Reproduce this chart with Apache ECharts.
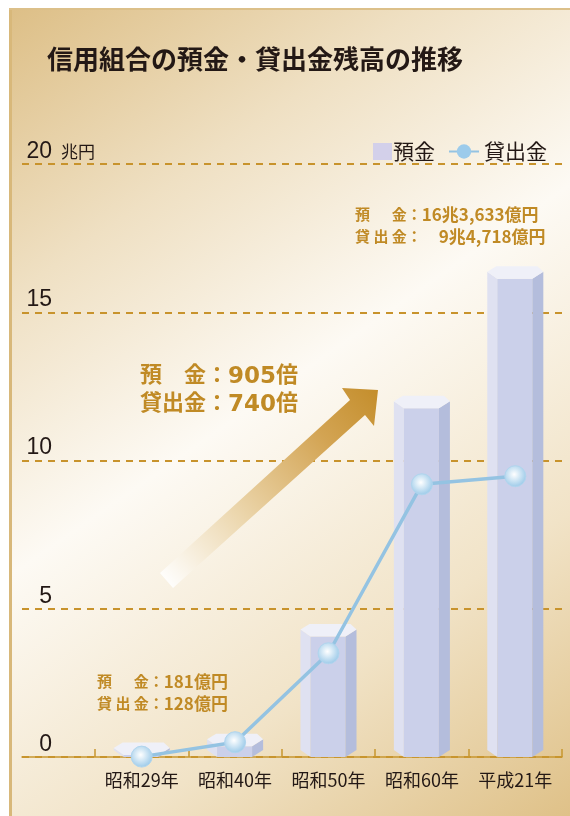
<!DOCTYPE html>
<html>
<head>
<meta charset="utf-8">
<script src="https://cdn.jsdelivr.net/npm/echarts@6/dist/echarts.min.js"></script>
<style>
html, body { margin: 0; padding: 0; background: #fff; }
#main { width: 570px; height: 816px; }
</style>
</head>
<body>
<div id="main"></div>
<script>
// 単位：兆円
const years = ["昭和29年", "昭和40年", "昭和50年", "昭和60年", "平成21年"];
const deposits = [0.0181, 0.6, 4.3, 12.0, 16.3633];
const loans = [0.0128, 0.5, 3.5, 9.2, 9.4718];
const yTicks = [0, 5, 10, 15, 20];

const JP = '"Noto Sans CJK JP", sans-serif';
const GOLD = "#c08a25";
const DARK = "#231815";

// 六角柱の描画
function renderPillar(params, api) {
  const top = api.coord([api.value(0), api.value(1)]);
  const base = api.coord([api.value(0), 0]);
  const y0 = base[1];
  const c = Math.min(top[1], y0 - 9);
  const half = api.size([1, 0])[0] * 0.3;
  const L = top[0] - half, R = top[0] + half;
  const fl = L + 10, fr = R - 11;
  return {
    type: "group",
    children: [
      { type: "polygon", shape: { points: [[L, c], [fl, c + 7], [fl, y0], [L, y0 - 7]] }, style: { fill: "#dfe1f1" } },
      { type: "polygon", shape: { points: [[fl, c + 7], [fr, c + 7], [fr, y0], [fl, y0]] }, style: { fill: "#cbd0ea" } },
      { type: "polygon", shape: { points: [[fr, c + 7], [R, c], [R, y0 - 7], [fr, y0]] }, style: { fill: "#b4bddc" } },
      { type: "polygon", shape: { points: [[L, c], [L + 9, c - 5.5], [R - 6, c - 5.5], [R, c], [fr, c + 7], [fl, c + 7]] }, style: { fill: "#eff0f8" } }
    ]
  };
}

const smallRich = {
  a: { fontSize: 15, fontWeight: "bold", fill: GOLD, fontFamily: JP, lineHeight: 22 },
  b: { fontSize: 17, fontWeight: "bold", fill: GOLD, fontFamily: JP, lineHeight: 22 }
};
const bigRich = {
  k: { fontSize: 22, fontWeight: "bold", fill: GOLD, fontFamily: JP, lineHeight: 28 },
  n: { fontSize: 23, fontWeight: "bold", fill: GOLD, fontFamily: "DejaVu Sans", lineHeight: 28, padding: [7, 0, 0, 0] }
};

const chart = echarts.init(document.getElementById("main"));
chart.setOption({
  animation: false,
  backgroundColor: new echarts.graphic.LinearGradient(0, 0, 1, 1, [
    { offset: 0, color: "#dcbd83" },
    { offset: 0.25, color: "#efe0c3" },
    { offset: 0.48, color: "#fdfaf4" },
    { offset: 0.75, color: "#f1e3c7" },
    { offset: 1, color: "#dfc188" }
  ]),
  textStyle: { fontFamily: JP },
  grid: [
    { left: 95, right: 8, top: 164, bottom: 59 },
    { left: 22, right: 8, top: 164, bottom: 59 }
  ],
  legend: [
    {
      data: ["預金"],
      left: 373, top: 141, padding: 0,
      itemWidth: 19, itemHeight: 17, icon: "rect",
      textStyle: { fontSize: 21, color: DARK, fontFamily: JP, padding: [0, 0, 0, -4] }
    },
    {
      data: [{ name: "貸出金", itemStyle: { color: "#9ccbeb", borderWidth: 0 } }],
      left: 448, top: 141, padding: 0,
      itemWidth: 30, itemHeight: 18,
      textStyle: { fontSize: 21, color: DARK, fontFamily: JP }
    }
  ],
  xAxis: [
    {
      type: "category", gridIndex: 0, data: years,
      axisLine: { show: false },
      axisTick: { show: true, inside: true, length: 8, interval: 0, lineStyle: { color: "#c8962f", width: 1.5 } },
      axisLabel: { margin: 14, fontSize: 18, color: DARK, fontFamily: JP, interval: 0 }
    },
    {
      type: "value", gridIndex: 1, min: 0, max: 1,
      axisLine: { show: true, lineStyle: { color: "#c8962f", width: 1.5 } },
      axisTick: { show: false }, axisLabel: { show: false }, splitLine: { show: false }
    }
  ],
  yAxis: [
    {
      type: "value", gridIndex: 0,
      min: yTicks[0], max: yTicks[yTicks.length - 1], interval: yTicks[1] - yTicks[0],
      name: "兆円", nameLocation: "end", nameGap: 2,
      nameTextStyle: { align: "right", verticalAlign: "bottom", fontSize: 17, color: DARK, fontFamily: JP, padding: [0, 0, 2, 0] },
      axisLine: { show: false }, axisTick: { show: false }, splitLine: { show: false },
      axisLabel: { align: "right", verticalAlign: "bottom", margin: 43, fontSize: 23, color: DARK, fontFamily: "Liberation Sans", padding: [0, 0, 1, 0] }
    },
    {
      type: "value", gridIndex: 1,
      min: yTicks[0], max: yTicks[yTicks.length - 1], interval: yTicks[1] - yTicks[0],
      axisLine: { show: false }, axisTick: { show: false }, axisLabel: { show: false },
      splitLine: { show: true, lineStyle: { type: [7, 6], color: "#c8932c", width: 2 } }
    }
  ],
  series: [
    {
      name: "預金", type: "custom", xAxisIndex: 0, yAxisIndex: 0,
      itemStyle: { color: "#d3d0ea" },
      renderItem: renderPillar,
      data: deposits.map((v, i) => [i, v]),
      z: 3
    },
    {
      name: "貸出金", type: "line", xAxisIndex: 0, yAxisIndex: 0,
      data: loans,
      symbol: "circle", symbolSize: 21,
      lineStyle: { color: "#94c3e2", width: 3.5 },
      itemStyle: {
        color: {
          type: "radial", x: 0.45, y: 0.42, r: 0.6,
          colorStops: [{ offset: 0, color: "#ffffff" }, { offset: 1, color: "#98c8e8" }]
        },
        borderColor: "#b0d5ee", borderWidth: 1
      },
      z: 5
    }
  ],
  graphic: [
    { type: "rect", shape: { x: 0, y: 0, width: 570, height: 8 }, style: { fill: "#ffffff" }, z: -10 },
    { type: "rect", shape: { x: 0, y: 0, width: 9, height: 816 }, style: { fill: "#ffffff" }, z: -10 },
    { type: "rect", shape: { x: 9, y: 8, width: 3, height: 808 }, style: { fill: "#d8b87a" }, z: -10 },
    { type: "rect", shape: { x: 9, y: 8, width: 561, height: 2 }, style: { fill: "#dcc08a" }, z: -10 },
    {
      type: "polygon",
      shape: { points: [[160, 573], [350, 400], [342, 388], [378, 390], [374, 426], [365, 415], [173, 588]] },
      style: {
        fill: new echarts.graphic.LinearGradient(160, 580, 378, 390, [
          { offset: 0, color: "#ffffff" },
          { offset: 0.35, color: "#ecd7ae" },
          { offset: 0.75, color: "#d3a453" },
          { offset: 1, color: "#c48e2c" }
        ], true)
      },
      z: 1
    },
    {
      type: "text", left: 47, top: 46,
      style: { text: "信用組合の預金・貸出金残高の推移", fontSize: 26, fontWeight: "bold", fill: DARK, fontFamily: JP }
    },
    {
      type: "text", left: 140, top: 359,
      style: {
        text: "{k|預　金：}{n|905}{k|倍}\n{k|貸出金：}{n|740}{k|倍}",
        rich: bigRich
      }
    },
    {
      type: "text", left: 355, top: 206,
      style: {
        text: "{a|預 　 金：}{b|16兆3,633億円}\n{a|貸 出 金：}{b|　9兆4,718億円}",
        rich: smallRich
      }
    },
    {
      type: "text", left: 97, top: 673,
      style: {
        text: "{a|預 　 金：}{b|181億円}\n{a|貸 出 金：}{b|128億円}",
        rich: smallRich
      }
    }
  ]
});
</script>
</body>
</html>
